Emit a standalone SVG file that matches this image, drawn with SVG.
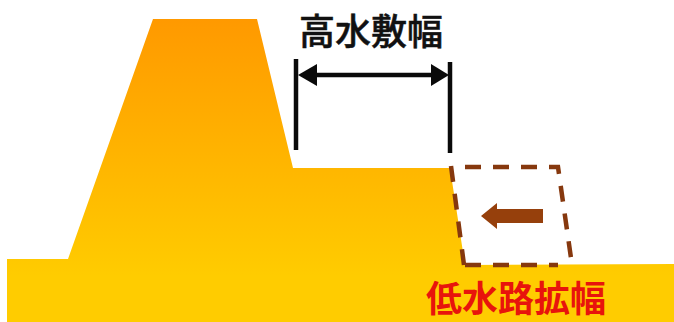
<svg xmlns="http://www.w3.org/2000/svg" width="674" height="322" viewBox="0 0 674 322">
<style>
.lbl{font-family:"Noto Sans CJK JP","Noto Sans CJK SC",sans-serif;font-size:36px}
.dim{stroke:#0a0a0a;stroke-width:4.5;fill:none}
.dash{fill:none;stroke:#86380e;stroke-width:4.5;stroke-dasharray:16 12}
</style>
<defs>
<linearGradient id="g" gradientUnits="userSpaceOnUse" x1="0" y1="19" x2="0" y2="322">
<stop offset="0" stop-color="#ff9900"/>
<stop offset="0.85" stop-color="#ffcc00"/>
<stop offset="1" stop-color="#ffcc00"/>
</linearGradient>
</defs>
<rect width="674" height="322" fill="#fff"/>
<g id="levee"><polygon fill="url(#g)" points="7,322 7,259 68,259 153,19 257,19 293,168 450,168 465,265 674,264 674,322"/></g>
<g id="excavation">
<path class="dash" d="M451,166 L464,265 M465,167 H558 L572,265 M465,265 H558"/>
<polygon fill="#96400c" points="481,216 497,203 497,209 543,209 543,223 497,223 497,229"/>
</g>
<g id="connectors">
<line class="dim" x1="296" y1="59" x2="296" y2="150"/>
<line class="dim" x1="450" y1="62" x2="450" y2="153"/>
<line class="dim" x1="310" y1="75" x2="436" y2="75"/>
<polygon fill="#0a0a0a" points="298,75 317,64 317,86"/>
<polygon fill="#0a0a0a" points="449,75 431,64 431,86"/>
</g>
<g id="label-high"><text class="lbl" x="299" y="45" fill="#111" stroke="#111" stroke-width="0.5" style="font-weight:500">高水敷幅</text></g>
<g id="label-low"><text class="lbl" x="426" y="312" fill="#e8140c" style="font-weight:700">低水路拡幅</text></g>
</svg>
